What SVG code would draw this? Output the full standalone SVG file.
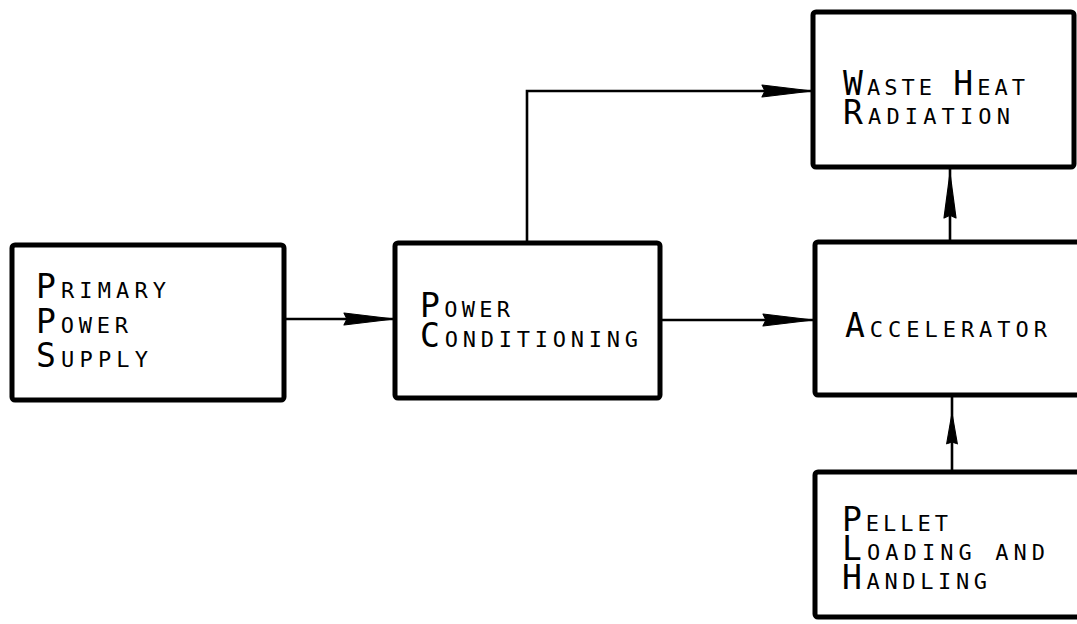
<svg xmlns="http://www.w3.org/2000/svg" width="1077" height="624" viewBox="0 0 1077 624">
<defs>
<style>
.box{fill:none;stroke:#000;stroke-width:5;stroke-linejoin:round}
.ln{fill:none;stroke:#000;stroke-width:2.6}
.ah{fill:#000;stroke:#000;stroke-width:1.2;stroke-linejoin:round}
.t{font-family:"DejaVu Sans Mono","Liberation Mono",monospace;font-size:22px;fill:#000}
.c{font-size:33px}
</style>
<path id="ah" d="M0,0 L-50,-6 L-47,0 L-50,6 Z"/>
</defs>
<rect width="1077" height="624" fill="#fff"/>
<g id="connectors">
<line class="ln" x1="284" y1="319" x2="395" y2="319"/>
<use href="#ah" class="ah" transform="translate(394,319)"/>
<line class="ln" x1="660" y1="320" x2="815" y2="320"/>
<use href="#ah" class="ah" transform="translate(813,320)"/>
<polyline class="ln" points="527,243 527,91 813,91"/>
<use href="#ah" class="ah" transform="translate(812,91)"/>
<line class="ln" x1="950" y1="242" x2="950" y2="167"/>
<use href="#ah" class="ah" transform="translate(950,173) rotate(-90) scale(0.9,1)"/>
<line class="ln" x1="952" y1="472" x2="952" y2="395"/>
<use href="#ah" class="ah" transform="translate(952,413) rotate(-90) scale(0.62,0.9)"/>
</g>
<g id="primary-power-supply">
<rect class="box" x="12" y="245" width="272" height="155" rx="3"/>
<text class="t" x="36" y="298" textLength="130" lengthAdjust="spacing"><tspan class="c">P</tspan>RIMARY</text>
<text class="t" x="36" y="333" textLength="92" lengthAdjust="spacing"><tspan class="c">P</tspan>OWER</text>
<text class="t" x="36" y="367" textLength="112" lengthAdjust="spacing"><tspan class="c">S</tspan>UPPLY</text>
</g>
<g id="power-conditioning">
<rect class="box" x="395" y="243" width="265" height="155" rx="3"/>
<text class="t" x="420" y="317" textLength="90" lengthAdjust="spacing"><tspan class="c">P</tspan>OWER</text>
<text class="t" x="420" y="347" textLength="218" lengthAdjust="spacing"><tspan class="c">C</tspan>ONDITIONING</text>
</g>
<g id="waste-heat-radiation">
<rect class="box" x="813" y="12" width="261" height="155" rx="3"/>
<text class="t" x="843" y="95" textLength="182" lengthAdjust="spacing"><tspan class="c">W</tspan>ASTE <tspan class="c">H</tspan>EAT</text>
<text class="t" x="843" y="124" textLength="167" lengthAdjust="spacing"><tspan class="c">R</tspan>ADIATION</text>
</g>
<g id="accelerator">
<rect class="box" x="815" y="242" width="270" height="153" rx="3"/>
<text class="t" x="845" y="337" textLength="202" lengthAdjust="spacing"><tspan class="c">A</tspan>CCELERATOR</text>
</g>
<g id="pellet-loading-handling">
<rect class="box" x="815" y="472" width="270" height="145" rx="3"/>
<text class="t" x="842" y="531" textLength="106" lengthAdjust="spacing"><tspan class="c">P</tspan>ELLET</text>
<text class="t" x="842" y="560" textLength="203" lengthAdjust="spacing"><tspan class="c">L</tspan>OADING AND</text>
<text class="t" x="842" y="589" textLength="145" lengthAdjust="spacing"><tspan class="c">H</tspan>ANDLING</text>
</g>
</svg>
